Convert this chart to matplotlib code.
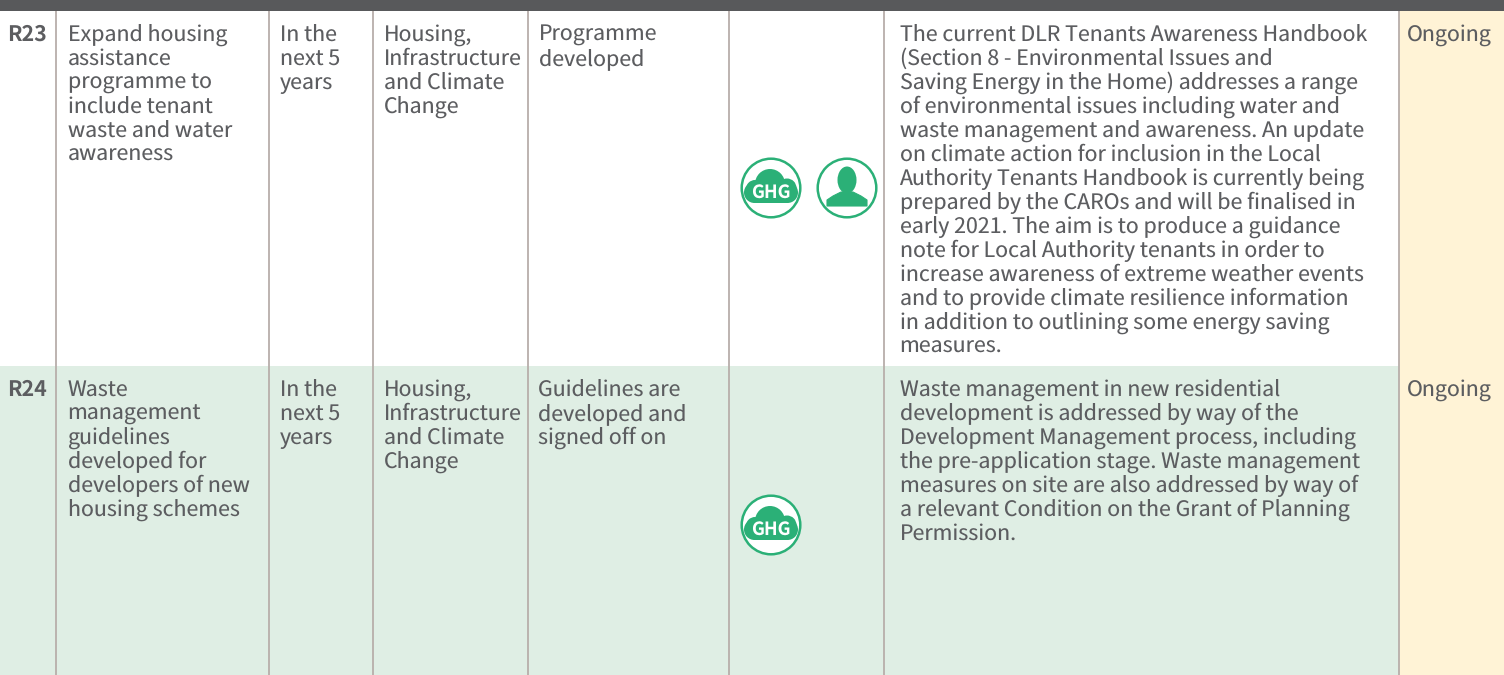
import matplotlib
matplotlib.use('Agg')
import matplotlib.pyplot as plt
from matplotlib.patches import Circle, Ellipse, Rectangle, Polygon

plt.rcParams['font.family'] = ['Noto Sans CJK JP', 'DejaVu Sans']
plt.rcParams['text.hinting'] = 'no_hinting'
plt.rcParams['text.hinting_factor'] = 1

W, H = 1504, 675
TEXT = '#5c5d60'
GREEN = '#2bb077'
ROW_GREEN = '#dfeee4'
YELLOW = '#fff3d6'
LINE = '#b8aeaa'
FS = 15.39
PITCH = 24

col_lines = [56.2, 268.7, 372.7, 527.7, 728.7, 884.2, 1398.7]
col_text = [7.5, 67.5, 279.5, 383.5, 538.5, 899.5, 1406.5]

r23_cells = [
    ['R23'],
    ['Expand housing', 'assistance', 'programme to', 'include tenant', 'waste and water', 'awareness'],
    ['In the', 'next 5', 'years'],
    ['Housing,', 'Infrastructure', 'and Climate', 'Change'],
    ['Programme', 'developed'],
    ['The current DLR Tenants Awareness Handbook',
     '(Section 8 - Environmental Issues and',
     'Saving Energy in the Home) addresses a range',
     'of environmental issues including water and',
     'waste management and awareness. An update',
     'on climate action for inclusion in the Local',
     'Authority Tenants Handbook is currently being',
     'prepared by the CAROs and will be finalised in',
     'early 2021. The aim is to produce a guidance',
     'note for Local Authority tenants in order to',
     'increase awareness of extreme weather events',
     'and to provide climate resilience information',
     'in addition to outlining some energy saving',
     'measures.'],
    ['Ongoing'],
]
r24_cells = [
    ['R24'],
    ['Waste', 'management', 'guidelines', 'developed for', 'developers of new', 'housing schemes'],
    ['In the', 'next 5', 'years'],
    ['Housing,', 'Infrastructure', 'and Climate', 'Change'],
    ['Guidelines are', 'developed and', 'signed off on'],
    ['Waste management in new residential',
     'development is addressed by way of the',
     'Development Management process, including',
     'the pre-application stage. Waste management',
     'measures on site are also addressed by way of',
     'a relevant Condition on the Grant of Planning',
     'Permission.'],
    ['Ongoing'],
]


def draw_ghg(ax, cx, cy):
    ax.add_patch(Circle((cx, cy), 29.3, fc='white', ec=GREEN, lw=1.8, zorder=3))
    # cloud shape
    ax.add_patch(Circle((cx - 1, cy - 4), 15, fc=GREEN, ec='none', zorder=4))
    ax.add_patch(Circle((cx + 16, cy + 0), 9.5, fc=GREEN, ec='none', zorder=4))
    ax.add_patch(Circle((cx - 16, cy + 1), 9, fc=GREEN, ec='none', zorder=4))
    ax.add_patch(Rectangle((cx - 16.5, cy - 6), 33, 21, fc=GREEN, ec='none', zorder=4))
    ax.add_patch(Circle((cx - 16.5, cy + 4.5), 10.5, fc=GREEN, ec='none', zorder=4))
    ax.add_patch(Circle((cx + 16.5, cy + 4.5), 10.5, fc=GREEN, ec='none', zorder=4))
    ax.text(cx, cy + 5, 'GHG', color='white', fontsize=13, fontweight='bold',
            ha='center', va='center', zorder=5)


def draw_person(ax, cx, cy):
    ax.add_patch(Circle((cx, cy), 29.3, fc='white', ec=GREEN, lw=1.8, zorder=3))
    ax.add_patch(Ellipse((cx, cy - 8), 19, 27, fc=GREEN, ec='none', zorder=4))
    ax.add_patch(Polygon([(cx - 20, cy + 18), (cx - 20, cy + 12), (cx - 14, cy + 8), (cx - 6, cy + 4),
                          (cx + 6, cy + 4), (cx + 14, cy + 8), (cx + 20, cy + 12), (cx + 20, cy + 18)],
                         closed=True, fc=GREEN, ec=GREEN, lw=0.8, joinstyle='round', zorder=4))


fig = plt.figure(figsize=(W / 100, H / 100), dpi=100)
ax = fig.add_axes([0, 0, 1, 1])
ax.set_xlim(0, W)
ax.set_ylim(H, 0)
ax.axis('off')

# backgrounds
ax.add_patch(Rectangle((0, 366), col_lines[-1], H - 366, fc=ROW_GREEN, ec='none', zorder=0))
ax.add_patch(Rectangle((col_lines[-1], 11), W - col_lines[-1], H - 11, fc=YELLOW, ec='none', zorder=0))
ax.add_patch(Rectangle((0, 0), W, 11, fc='#58595b', ec='none', zorder=2))

for x in col_lines:
    ax.plot([x, x], [11, H], color=LINE, lw=1.3, zorder=1, solid_capstyle='butt')

for cells, base in [(r23_cells, 41.15), (r24_cells, 396.15)]:
    for i, (x, lines) in enumerate(zip(col_text, cells)):
        for j, line in enumerate(lines):
            ax.text(x, base + j * PITCH, line, color=TEXT, fontsize=FS, va='baseline', ha='left',
                    fontweight='bold' if i == 0 else 'normal', zorder=3)

draw_ghg(ax, 771, 188)
draw_person(ax, 847, 188)
draw_ghg(ax, 771, 525)

fig.savefig('out.png', dpi=100)
